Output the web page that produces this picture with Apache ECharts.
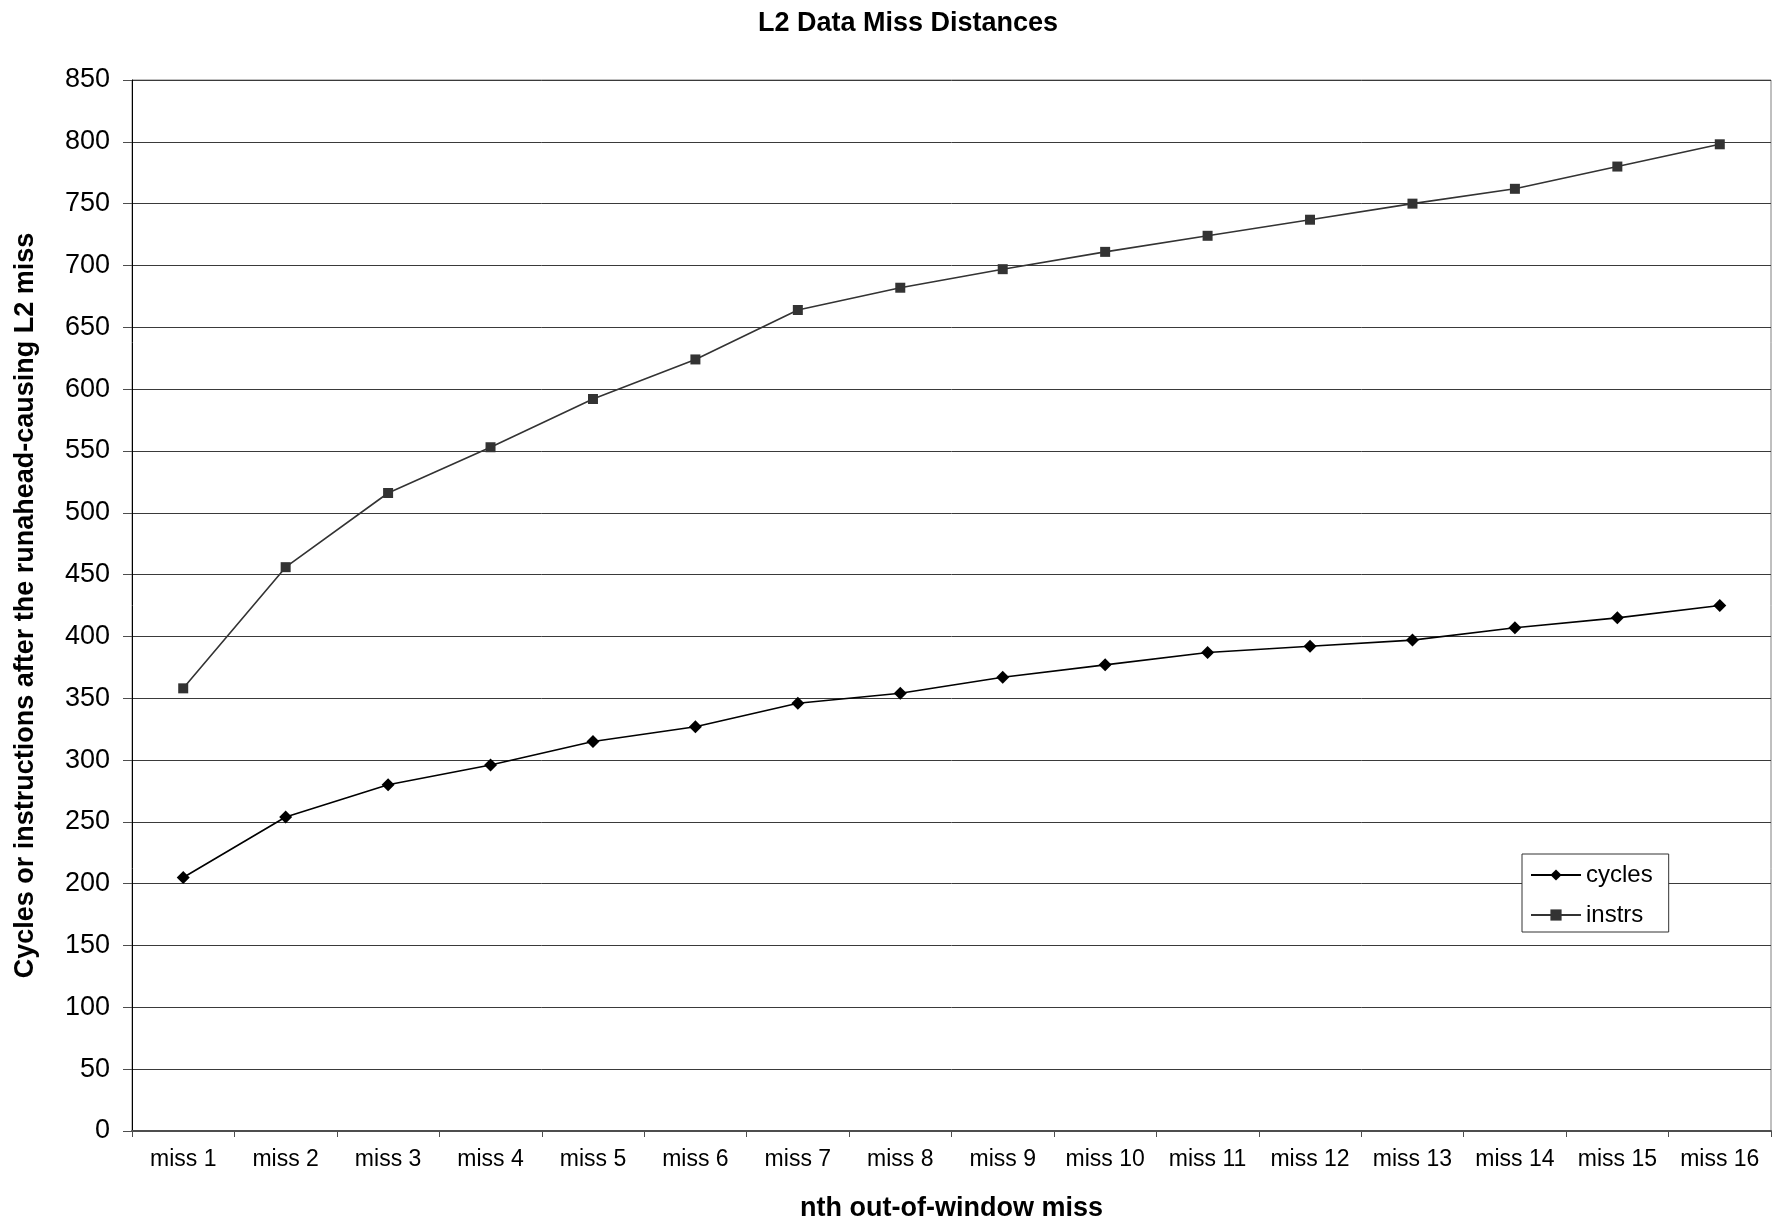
<!DOCTYPE html>
<html>
<head>
<meta charset="utf-8">
<title>L2 Data Miss Distances</title>
<script src="https://cdn.jsdelivr.net/npm/echarts@6/dist/echarts.min.js"></script>
<style>
  html, body { margin: 0; padding: 0; background: #fff; }
  #chart { width: 1775px; height: 1223px; }
</style>
</head>
<body>
<div id="chart"></div>
<script>
// Categories: the nth out-of-window miss after the runahead-triggering L2 miss
const categories = ['miss 1', 'miss 2', 'miss 3', 'miss 4', 'miss 5', 'miss 6', 'miss 7', 'miss 8',
                    'miss 9', 'miss 10', 'miss 11', 'miss 12', 'miss 13', 'miss 14', 'miss 15', 'miss 16'];

// Average distance in cycles
const cycles = [205, 254, 280, 296, 315, 327, 346, 354, 367, 377, 387, 392, 397, 407, 415, 425];

// Average distance in instructions
const instrs = [358, 456, 516, 553, 592, 624, 664, 682, 697, 711, 724, 737, 750, 762, 780, 798];

// Value axis range
const yMin = 0;
const yMax = 850;
const yStep = 50;

const FONT = '"Liberation Sans", Arial, sans-serif';

const chart = echarts.init(document.getElementById('chart'), null, { renderer: 'canvas' });

chart.setOption({
  backgroundColor: '#ffffff',
  animation: false,
  title: {
    text: 'L2 Data Miss Distances',
    left: 753,
    top: 5,
    textStyle: { fontFamily: FONT, fontSize: 27, fontWeight: 'bold', color: '#000' }
  },
  grid: {
    left: 132,
    right: 4,
    top: 80,
    bottom: 92,
    outerBoundsMode: 'none',
    show: true,
    borderColor: '#808080',
    borderWidth: 1,
    backgroundColor: 'transparent'
  },
  legend: {
    orient: 'vertical',
    left: 1522,
    top: 854,
    padding: [9, 16, 5, 8],
    itemGap: 16,
    itemWidth: 50,
    itemHeight: 14,
    backgroundColor: '#fff',
    borderColor: '#333',
    borderWidth: 1,
    borderRadius: 0,
    textStyle: { fontFamily: FONT, fontSize: 24, color: '#000', lineHeight: 24 },
    data: ['cycles', 'instrs']
  },
  xAxis: {
    type: 'category',
    data: categories,
    boundaryGap: true,
    name: 'nth out-of-window miss',
    nameLocation: 'middle',
    nameGap: 64,
    nameTextStyle: { fontFamily: FONT, fontSize: 27, fontWeight: 'bold', color: '#000' },
    axisLine: { show: true, lineStyle: { color: '#4d4d4d', width: 2 } },
    axisTick: { show: true, interval: 0, length: 6, lineStyle: { color: '#4d4d4d', width: 1 } },
    axisLabel: { interval: 0, margin: 17, fontFamily: FONT, fontSize: 23, color: '#000' },
    splitLine: { show: false }
  },
  yAxis: {
    type: 'value',
    min: yMin,
    max: yMax,
    interval: yStep,
    name: 'Cycles or instructions after the runahead-causing L2 miss',
    nameLocation: 'middle',
    nameGap: 93,
    nameRotate: 90,
    nameTextStyle: { fontFamily: FONT, fontSize: 27, fontWeight: 'bold', color: '#000' },
    axisLine: { show: true, lineStyle: { color: '#000', width: 1 } },
    axisTick: { show: true, length: 9, lineStyle: { color: '#4d4d4d', width: 1 } },
    axisLabel: { margin: 22, fontFamily: FONT, fontSize: 27, color: '#000' },
    splitLine: { show: true, lineStyle: { color: '#3a3a3a', width: 1 } }
  },
  series: [
    {
      name: 'cycles',
      type: 'line',
      data: cycles,
      symbol: 'diamond',
      symbolSize: 13,
      showAllSymbol: true,
      itemStyle: { color: '#000' },
      lineStyle: { color: '#000', width: 1.6 },
      z: 3
    },
    {
      name: 'instrs',
      type: 'line',
      data: instrs,
      symbol: 'rect',
      symbolSize: 10,
      showAllSymbol: true,
      itemStyle: { color: '#333' },
      lineStyle: { color: '#333', width: 1.6 },
      z: 3
    }
  ]
});
</script>
</body>
</html>
